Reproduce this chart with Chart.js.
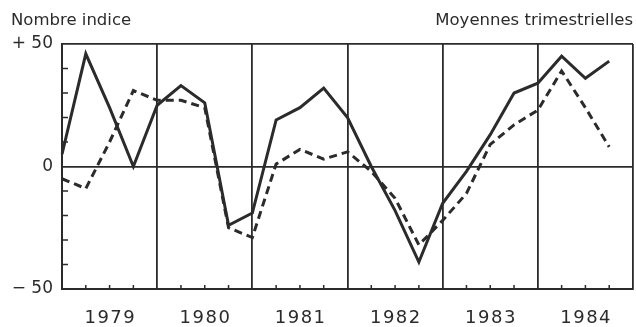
<!DOCTYPE html>
<html lang="fr">
<head>
<meta charset="utf-8">
<title>Nombre indice – Moyennes trimestrielles</title>
<script src="https://cdn.jsdelivr.net/npm/chart.js@4.4.1/dist/chart.umd.min.js"></script>
<style>
    html, body { margin: 0; padding: 0; background: #fff; }
    .chart-box { position: relative; width: 636px; height: 327px; }
    .chart-box canvas { position: absolute; left: 0; top: 0; }
    .label {
        position: absolute;
        font-family: 'DejaVu Sans', sans-serif;
        font-size: 16.5px;
        line-height: 16.5px;
        color: #2b2b2b;
        white-space: nowrap;
    }
    .label-left { left: 11px; top: 11.5px; }
    .label-right { right: 3px; top: 12px; }
</style>
</head>
<body>
<div class="chart-box">
    <canvas id="chart" width="636" height="327"></canvas>
    <div class="label label-left">Nombre indice</div>
    <div class="label label-right">Moyennes trimestrielles</div>
</div>
<script>
// Data
const years = ['1979', '1980', '1981', '1982', '1983', '1984'];
const quarterLabels = [
    '1979 T1', '1979 T2', '1979 T3', '1979 T4',
    '1980 T1', '1980 T2', '1980 T3', '1980 T4',
    '1981 T1', '1981 T2', '1981 T3', '1981 T4',
    '1982 T1', '1982 T2', '1982 T3', '1982 T4',
    '1983 T1', '1983 T2', '1983 T3', '1983 T4',
    '1984 T1', '1984 T2', '1984 T3', '1984 T4',
    '1985 T1'
];
const serieA = [5, 46, 24, 0, 25, 33, 26, -24, -19, 19, 24, 32, 20, 0, -18, -39, -15, -2, 13, 30, 34, 45, 36, 43];
const serieB = [-5, -9, 10, 31, 27, 27, 24, -25, -29, 1, 7, 3, 6, -2, -13, -32, -22, -11, 9, 17, 23, 39, 24, 8];
const yTicks = [-50, 0, 50];
const yTickText = ['− 50', '0', '+ 50'];
const yMinorTicks = [-40, -30, -20, -10, 10, 20, 30, 40];

const ink = '#2b2b2b';

// Small inward ticks + year labels
const frameMarks = {
    id: 'frameMarks',
    afterDraw(chart) {
        const { ctx, chartArea, scales } = chart;
        ctx.save();
        ctx.strokeStyle = ink;
        ctx.lineWidth = 1.5;
        ctx.beginPath();
        quarterLabels.forEach((q, i) => {
            if (i % 4 === 0) return;
            const x = scales.x.getPixelForValue(i);
            ctx.moveTo(x, chartArea.bottom);
            ctx.lineTo(x, chartArea.bottom - 4);
        });
        yMinorTicks.forEach(v => {
            const y = scales.y.getPixelForValue(v);
            ctx.moveTo(chartArea.left, y);
            ctx.lineTo(chartArea.left + 6, y);
        });
        ctx.stroke();

        ctx.fillStyle = ink;
        ctx.font = '18px "DejaVu Sans", sans-serif';
        ctx.textAlign = 'center';
        ctx.textBaseline = 'alphabetic';
        if ('letterSpacing' in ctx) ctx.letterSpacing = '1.5px';
        years.forEach((year, k) => {
            const x = scales.x.getPixelForValue(k * 4 + 2);
            ctx.fillText(year, x + 0.75, 322.5);
        });
        ctx.restore();
    }
};

document.addEventListener('DOMContentLoaded', () => {
    const ctx = document.getElementById('chart').getContext('2d');
    new Chart(ctx, {
        type: 'line',
        data: {
            labels: quarterLabels,
            datasets: [
                {
                    data: serieA,
                    borderColor: ink,
                    borderWidth: 3,
                    borderJoinStyle: 'miter',
                    pointRadius: 0,
                    tension: 0
                },
                {
                    data: serieB,
                    borderColor: ink,
                    borderWidth: 3,
                    borderDash: [8, 5],
                    pointRadius: 0,
                    tension: 0
                }
            ]
        },
        options: {
            responsive: false,
            animation: false,
            layout: { padding: { top: 44, right: 3 } },
            plugins: {
                legend: { display: false },
                tooltip: { enabled: false }
            },
            scales: {
                x: {
                    type: 'category',
                    offset: false,
                    grid: {
                        color: c => (c.index % 4 === 0 ? ink : 'transparent'),
                        lineWidth: 1.8,
                        drawTicks: false
                    },
                    border: { color: ink, width: 2 },
                    ticks: { display: false, autoSkip: false },
                    afterFit: s => { s.height = 38; }
                },
                y: {
                    min: -50,
                    max: 50,
                    afterBuildTicks: s => { s.ticks = yTicks.map(v => ({ value: v })); },
                    ticks: {
                        callback: v => yTickText[yTicks.indexOf(v)],
                        font: { family: 'DejaVu Sans', size: 17 },
                        color: ink,
                        padding: 9
                    },
                    grid: {
                        color: c => (c.tick && c.tick.value === -50 ? 'transparent' : ink),
                        lineWidth: 1.8,
                        drawTicks: false
                    },
                    border: { color: ink, width: 2 },
                    afterFit: s => { s.width = 62; }
                }
            }
        },
        plugins: [frameMarks]
    });
});
</script>
</body>
</html>
